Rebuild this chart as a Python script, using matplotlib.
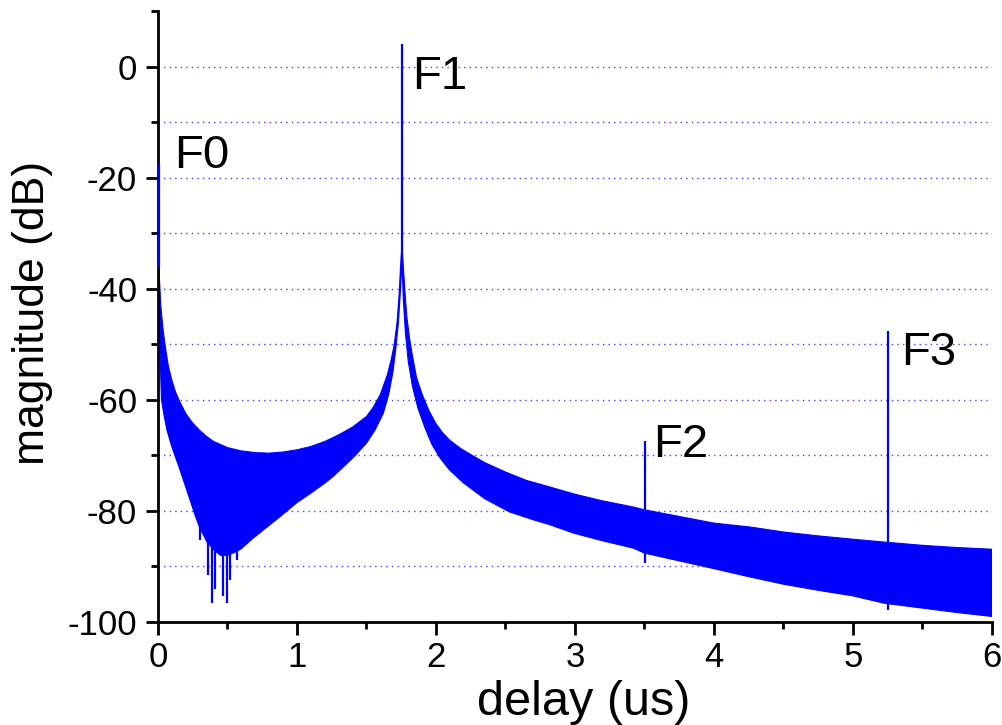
import matplotlib
matplotlib.use("Agg")
import matplotlib.pyplot as plt
import numpy as np
from matplotlib.ticker import MultipleLocator

plt.rcParams['font.family'] = ['Liberation Sans', 'DejaVu Sans']
plt.rcParams['axes.unicode_minus'] = False

# ---- data ----
# upper envelope of the dense oscillating trace (delay in us, magnitude in dB)
upper_x = [0.0, 0.005, 0.01, 0.02, 0.035, 0.05, 0.075, 0.10, 0.125, 0.15, 0.20, 0.25,
           0.30, 0.35, 0.40, 0.50, 0.60, 0.70, 0.80, 0.90, 1.00, 1.10, 1.20, 1.30,
           1.40, 1.50, 1.55, 1.60, 1.65, 1.68, 1.70, 1.72, 1.735, 1.745, 1.755,
           1.765, 1.775, 1.79, 1.81, 1.83, 1.86, 1.90, 1.95, 2.00, 2.05, 2.10, 2.18,
           2.26, 2.35, 2.50, 2.65, 2.82, 3.00, 3.20, 3.42, 3.50, 3.75, 4.00, 4.26,
           4.50, 4.75, 5.00, 5.22, 5.50, 5.75, 6.00]
upper_y = [-28, -34, -38, -43, -47, -50, -54, -56.5, -58.5, -60, -62.5, -64.2,
           -65.5, -66.6, -67.5, -68.6, -69.2, -69.5, -69.6, -69.4, -69.0, -68.4, -67.5, -66.3,
           -64.9, -63.0, -61.3, -59.0, -55.5, -52.5, -50, -46, -41, -36, -32,
           -36, -40, -45, -49, -52, -56, -59, -62, -64.3, -66, -67.3, -68.8,
           -70.0, -71.3, -73.0, -74.5, -75.7, -77.0, -78.2, -79.3, -79.8, -81.0, -82.2, -82.9,
           -83.8, -84.5, -85.1, -85.6, -86.2, -86.6, -86.9]

# lower envelope of the trace
lower_x = [0.0, 0.005, 0.015, 0.025, 0.045, 0.065, 0.10, 0.15, 0.19, 0.23, 0.27, 0.30,
           0.35, 0.40, 0.45, 0.50, 0.55, 0.60, 0.68, 0.78, 0.88, 1.00, 1.10, 1.20,
           1.26, 1.35, 1.42, 1.50, 1.56, 1.62, 1.66, 1.69, 1.71, 1.73, 1.745, 1.755,
           1.765, 1.78, 1.80, 1.83, 1.87, 1.92, 1.97, 2.03, 2.10, 2.20, 2.35, 2.53,
           2.70, 2.82, 2.99, 3.20, 3.42, 3.50, 3.75, 4.00, 4.26, 4.50, 4.75, 5.00,
           5.22, 5.50, 5.75, 6.00]
lower_y = [-28, -40, -52, -60, -63, -65.5, -68.5, -72, -75, -78, -81, -83,
           -85.5, -87, -88, -88, -87.5, -86.8, -85, -83, -81, -78.5, -76.8, -75,
           -73.8, -71.7, -70, -67.8, -65.5, -62.5, -59, -55, -51, -46, -40, -35,
           -42, -48, -53, -57.5, -61.5, -65, -68, -70.5, -72.7, -75, -77.8, -80.2,
           -81.6, -82.5, -84, -85.4, -86.7, -87.6, -89, -90.4, -91.9, -93.2, -94.3, -95.3,
           -96.6, -97.5, -98.3, -99]

# deep notches of the trace near 0.3-0.6 us
notch_x = [0.30, 0.36, 0.386, 0.41, 0.47, 0.494, 0.52, 0.57]
notch_y = [-85.2, -91.5, -96.6, -94.0, -95.4, -96.6, -92.4, -88.8]

# echo peaks (delay, bottom dB, top dB)
peak_x = [0.01, 1.755, 3.505, 5.252]
peak_bottom = [-36, -35, -89.4, -97.8]
peak_top = [-17.5, 4.1, -67.5, -47.6]

labels = ["F0", "F1", "F2", "F3"]
label_x = [0.115, 1.83, 3.56, 5.345]
label_y = [-18.2, -4.1, -70.3, -53.7]

grid_levels = [-90, -80, -70, -60, -50, -40, -30, -20, -10, 0]

# ---- figure ----
fig = plt.figure(figsize=(10.03, 7.25), dpi=100)
ax = fig.add_axes([158/1003, 1-622/725, (992-158)/1003, (622-11)/725])

blue = '#0000ff'
for g in grid_levels:
    ax.axhline(g, color=(0.25, 0.25, 1.0), lw=1.0, ls=(0, (1, 3)), zorder=1)

poly_x = np.concatenate([upper_x, lower_x[::-1]])
poly_y = np.concatenate([upper_y, lower_y[::-1]])
ax.fill(poly_x, poly_y, color=blue, lw=0.8, zorder=2)

ax.vlines(notch_x, [-82] * len(notch_x), notch_y, color=blue, lw=1.6, zorder=2)
ax.vlines(peak_x, peak_bottom, peak_top, color=blue, lw=1.6, zorder=3)

for t, x, y in zip(labels, label_x, label_y):
    ax.text(x, y, t, fontsize=34, ha='left', va='baseline', zorder=4)

ax.set_xlim(0, 6)
ax.set_ylim(-100, 10)
ax.xaxis.set_major_locator(MultipleLocator(1))
ax.xaxis.set_minor_locator(MultipleLocator(0.5))
ax.yaxis.set_major_locator(MultipleLocator(20))
ax.yaxis.set_minor_locator(MultipleLocator(10))

for s in ['top', 'right']:
    ax.spines[s].set_visible(False)
for s in ['left', 'bottom']:
    ax.spines[s].set_linewidth(2.0)

ax.tick_params(axis='both', which='major', direction='out', length=9, width=2.0,
               labelsize=25)
ax.tick_params(axis='both', which='minor', direction='out', length=5, width=2.0)
ax.tick_params(axis='x', which='major', pad=5)
ax.tick_params(axis='y', which='major', pad=6)

fig.text(584/1003, 1-715/725, "delay (us)", fontsize=35, ha='center', va='baseline')
fig.text(33/1003, 1-313/725, "magnitude (dB)", fontsize=32, ha='center', va='center',
         rotation=90)

fig.savefig("out.png", dpi=100)
